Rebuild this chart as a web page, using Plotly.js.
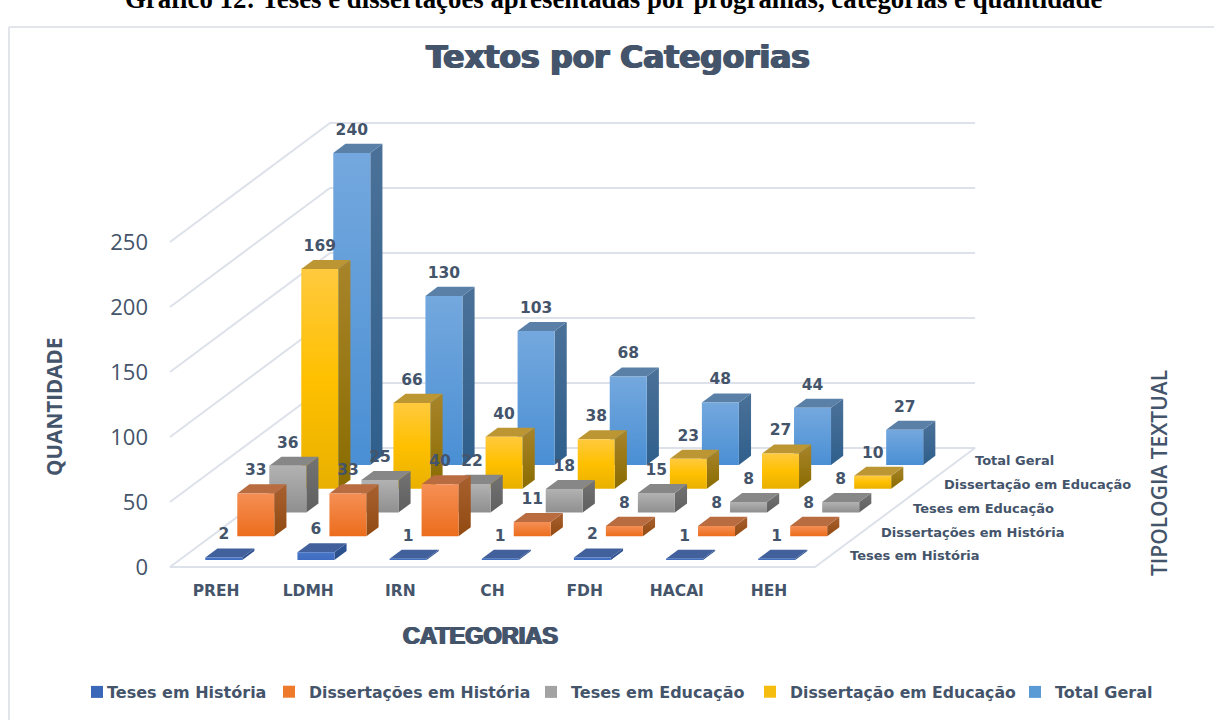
<!DOCTYPE html>
<html><head><meta charset="utf-8">
<script src="https://cdn.plot.ly/plotly-3.0.1.min.js"></script>
<style>html,body{margin:0;padding:0;background:#fff;overflow:hidden}#c{width:1214px;height:720px}
.legend .legendsymbols{transform:translateX(10px)}</style>
</head><body><div id="c"></div>
<script>
const categories = ["PREH","LDMH","IRN","CH","FDH","HACAI","HEH"];
const seriesNames = ["Teses em História","Dissertações em História","Teses em Educação","Dissertação em Educação","Total Geral"];
const tesesHistoria = [2,6,1,1,2,1,1];
const dissertacoesHistoria = [33,33,40,11,8,8,8];
const tesesEducacao = [36,25,22,18,15,8,8];
const dissertacaoEducacao = [169,66,40,38,23,27,10];
const totalGeral = [240,130,103,68,48,44,27];
const yTicks = [0,50,100,150,200,250];
const rows = [tesesHistoria,dissertacoesHistoria,tesesEducacao,dissertacaoEducacao,totalGeral];
const palettes = [
 {front:["#4674c6","#3f6cc0"],side:["#2f5596","#2a4d88"],top:"#41609c",sw:"#3a67b8"},
 {front:["#f58f55","#ec6d1c"],side:["#a8602f","#924a12"],top:"#b86c40",sw:"#ee7a2c"},
 {front:["#b2b2b2","#8f8f8f"],side:["#737373","#5f5f5f"],top:"#878787",sw:"#a3a3a3"},
 {front:["#ffca3e","#ffc000","#e8b000"],side:["#a8842a","#8a6c00"],top:"#bc9632",sw:"#f5bd10"},
 {front:["#74a8de","#4a8fd4"],side:["#4b7198","#2f5f8c"],top:"#5a80a8",sw:"#5b9bd5"}
];
const W=1214,H=720,L=155,R=1000,T=115,B=575;
const ink="#44546a", grid="#dde1ea";
const xUnit=92.15, yUnit=1.3, dxPx=32, dyPx=23.8;
const xRange=[(L-170)/xUnit,(R-170)/xUnit], yRange=[(567-B)/yUnit,(567-T)/yUnit];
const px=(c,d)=>c+d*dxPx/xUnit, py=(v,d)=>v+d*dyPx/yUnit;
const paperX=p=>(p-L)/(R-L), paperY=p=>(B-p)/(B-T);
const noHover={hoverinfo:"skip",showlegend:false};
const traces=[];
let gx=[],gy=[];
yTicks.slice(1).forEach(v=>{gx.push(px(0,0),px(0,5),px(7,5),null);gy.push(py(v,0),py(v,5),py(v,5),null);});
gx.push(px(0,5),px(0,0),px(7,0),px(7,5),px(0,5));gy.push(py(0,5),py(0,0),py(0,0),py(0,5),py(0,5));
traces.push(Object.assign({type:"scatter",mode:"lines",x:gx,y:gy,line:{color:grid,width:2}},noHover));
function face(xs,ys,cols){
  const t=Object.assign({type:"scatter",mode:"lines",x:xs.concat(xs[0]),y:ys.concat(ys[0]),fill:"toself",line:{width:0}},noHover);
  if(Array.isArray(cols)){t.fillgradient={type:"vertical",start:Math.max(...ys),stop:Math.min(...ys),colorscale:cols.map((c,i)=>[i/(cols.length-1),c])};t.fillcolor=cols[0];}
  else t.fillcolor=cols;
  return t;
}
const cOff=26/xUnit,cW=37/xUnit,dF=.29,dB=.67;
for(let r=4;r>=0;r--){
  rows[r].forEach((v,i)=>{
    const p=palettes[r],x0=i+cOff,x1=x0+cW,df=r+dF,db=r+dB;
    traces.push(face([px(x1,df),px(x1,db),px(x1,db),px(x1,df)],[py(v,df),py(v,db),py(0,db),py(0,df)],p.side));
    traces.push(face([px(x0,df),px(x1,df),px(x1,db),px(x0,db)],[py(v,df),py(v,df),py(v,db),py(v,db)],p.top));
    traces.push(face([px(x0,df),px(x1,df),px(x1,df),px(x0,df)],[py(v,df),py(v,df),py(0,df),py(0,df)],p.front));
  });
}
rows.forEach((vals,r)=>{
  traces.push(Object.assign({type:"scatter",mode:"text",cliponaxis:false,
    x:vals.map((v,i)=>px(i+cOff+cW/2,r+dF)),
    y:vals.map(v=>py(v,r+dF)+22/yUnit),
    text:vals.map(String),textposition:"middle center",
    textfont:{family:"DejaVu Sans",size:15.5,weight:700,color:ink}},noHover));
});
const depthStart=[850,881,913,944,975], depthY=[557,534,510,486,462];
traces.push(Object.assign({type:"scatter",mode:"text",cliponaxis:false,
  x:seriesNames.map((s,r)=>(depthStart[r]-170)/xUnit),
  y:seriesNames.map((s,r)=>(567-depthY[r])/yUnit),
  text:seriesNames,textposition:"middle right",
  textfont:{family:"DejaVu Sans",size:13,weight:700,color:ink}},noHover));
const legendNames=["legend","legend2","legend3","legend4","legend5"];
const legendX=[67,269,531,750,1015];
seriesNames.forEach((s,r)=>traces.push({type:"scatter",mode:"markers",name:s,x:[null],y:[null],legend:legendNames[r],
  marker:{symbol:"square",size:12,color:palettes[r].sw},hoverinfo:"skip",showlegend:true}));

const heavy=`1px 0 0 ${ink},-1px 0 0 ${ink}`;
const layout={
  width:W,height:H,autosize:false,paper_bgcolor:"#fff",plot_bgcolor:"rgba(0,0,0,0)",
  margin:{l:L,r:W-R,t:T,b:H-B,pad:0},
  title:{text:"Textos por Categorias",xref:"container",yref:"container",x:618/W,xanchor:"center",y:1-57/H,yanchor:"middle",
    font:{family:"DejaVu Sans",size:31.2,weight:700,color:ink,shadow:heavy}},
  xaxis:{range:xRange,tickmode:"array",tickvals:categories.map((c,i)=>i+.5),ticktext:categories,showgrid:false,zeroline:false,showline:false,ticks:"",
    tickfont:{family:"DejaVu Sans",size:15.5,weight:700,color:ink},ticklabelstandoff:4},
  yaxis:{range:yRange,tickmode:"array",tickvals:yTicks,showgrid:false,zeroline:false,showline:false,ticks:"",
    tickfont:{family:"Open Sans",size:22,color:ink},ticklabelstandoff:6},
  showlegend:true,
  shapes:[{type:"line",xref:"paper",yref:"paper",x0:paperX(9),x1:paperX(9),y0:paperY(27),y1:paperY(720),line:{color:"#e2e5ea",width:2}},
          {type:"line",xref:"paper",yref:"paper",x0:paperX(9),x1:paperX(1214),y0:paperY(27),y1:paperY(27),line:{color:"#e2e5ea",width:2}}],
  annotations:[
    {text:"Gráfico 12: Teses e dissertações apresentadas por programas, categorias e quantidade",xref:"paper",yref:"paper",x:paperX(613),y:paperY(-1),xanchor:"center",yanchor:"middle",showarrow:false,font:{family:"Liberation Serif",size:26.8,weight:700,color:"#000"}},
    {text:"CATEGORIAS",xref:"paper",yref:"paper",x:paperX(480),y:paperY(636),xanchor:"center",yanchor:"middle",showarrow:false,font:{family:"Liberation Sans",size:23.5,weight:700,color:ink,shadow:heavy}},
    {text:"QUANTIDADE",xref:"paper",yref:"paper",x:paperX(54),y:paperY(407),xanchor:"center",yanchor:"middle",textangle:-90,showarrow:false,font:{family:"Open Sans",size:20.7,weight:700,color:ink}},
    {text:"TIPOLOGIA TEXTUAL",xref:"paper",yref:"paper",x:paperX(1159),y:paperY(473),xanchor:"center",yanchor:"middle",textangle:-90,showarrow:false,font:{family:"Open Sans",size:21,weight:600,color:ink}}
  ]
};
legendNames.forEach((n,i)=>{layout[n]={orientation:"h",xref:"container",yref:"container",x:legendX[i]/W,xanchor:"left",y:1-692/H,yanchor:"middle",
  font:{family:"DejaVu Sans",size:i===1||i===3?15.7:16,weight:700,color:ink},bgcolor:"rgba(0,0,0,0)"};});
Plotly.newPlot("c",traces,layout,{staticPlot:true,displayModeBar:false});
</script></body></html>
